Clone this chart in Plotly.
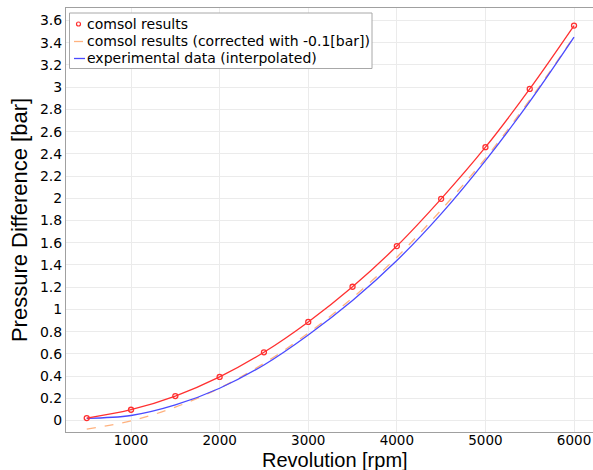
import plotly.graph_objects as go

rpm = [500, 1000, 1500, 2000, 2500, 3000, 3500, 4000, 4500, 5000, 5500, 6000]
comsol = [0.022, 0.097, 0.22, 0.392, 0.614, 0.887, 1.204, 1.57, 1.995, 2.46, 2.985, 3.555]
correction = 0.1
corrected = [v - correction for v in comsol]
experimental = [0.02, 0.045, 0.14, 0.29, 0.50, 0.77, 1.08, 1.44, 1.86, 2.34, 2.87, 3.45]

legend_labels = ["comsol results", "comsol results (corrected with -0.1[bar])", "experimental data (interpolated)"]

RED = "#ff3030"
ORANGE = "#ffb27f"
BLUE = "#4a4aff"

W, H = 593, 470
L, R, T, B = 66, 0, 8, 38
PW, PH = W - L - R, H - T - B


def px(xp):
    return (xp - L) / PW


def py(yp):
    return (H - B - yp) / PH


fig = go.Figure()
fig.add_trace(go.Scatter(x=rpm, y=corrected, mode="lines",
                         line=dict(color=ORANGE, width=1.3, dash="dash", shape="spline"),
                         name=legend_labels[1], showlegend=False))
fig.add_trace(go.Scatter(x=rpm, y=experimental, mode="lines",
                         line=dict(color=BLUE, width=1.3, shape="spline"),
                         name=legend_labels[2], showlegend=False))
fig.add_trace(go.Scatter(x=rpm, y=comsol, mode="lines+markers",
                         line=dict(color=RED, width=1.3, shape="spline"),
                         marker=dict(symbol="circle-open", size=5, color=RED, line=dict(width=1.3)),
                         name=legend_labels[0], showlegend=False))

# custom legend box (COMSOL style, short symbols)
shapes = [
    dict(type="rect", xref="paper", yref="paper", x0=px(69.5), x1=px(372), y0=py(13), y1=py(68.5),
         line=dict(color="#a8a8a8", width=1), fillcolor="white", layer="above"),
    dict(type="circle", xref="paper", yref="paper", xsizemode="pixel", ysizemode="pixel",
         xanchor=px(78.5), yanchor=py(24), x0=-2, x1=2, y0=-2, y1=2,
         line=dict(color=RED, width=1.2), layer="above"),
    dict(type="line", xref="paper", yref="paper", x0=px(74), x1=px(85), y0=py(41.5), y1=py(41.5),
         line=dict(color=ORANGE, width=1.3, dash="dash"), layer="above"),
    dict(type="line", xref="paper", yref="paper", x0=px(74), x1=px(85), y0=py(58.5), y1=py(58.5),
         line=dict(color=BLUE, width=1.3), layer="above"),
]
annotations = []
for lab, yy in zip(legend_labels, [24.5, 41.5, 58.5]):
    annotations.append(dict(text=lab, xref="paper", yref="paper", x=px(85), y=py(yy),
                            xanchor="left", yanchor="middle", showarrow=False,
                            font=dict(family="DejaVu Sans", size=14, color="black")))
annotations.append(dict(text="Revolution [rpm]", xref="paper", yref="paper", x=px(335), y=py(472),
                        xanchor="center", yanchor="bottom", showarrow=False, borderpad=0,
                        font=dict(family="Liberation Sans", size=20, color="black")))

fig.update_layout(
    width=W, height=H,
    margin=dict(l=L, r=R, t=T, b=B),
    paper_bgcolor="white", plot_bgcolor="white",
    font=dict(family="DejaVu Sans", size=14, color="black"),
    showlegend=False,
    shapes=shapes,
    annotations=annotations,
)
fig.update_xaxes(range=[266, 6214], tickvals=[1000, 2000, 3000, 4000, 5000, 6000],
                 showgrid=True, gridcolor="#ebebeb", gridwidth=1,
                 showline=True, linecolor="#a0a0a0", linewidth=1, mirror=True,
                 zeroline=False, ticks="outside", ticklen=0, tickcolor="white",
                 automargin=False, ticklabelstandoff=-4, tickfont=dict(size=13.5))
fig.update_yaxes(range=[-0.1035, 3.713], dtick=0.2, tick0=0,
                 showgrid=True, gridcolor="#ebebeb", gridwidth=1,
                 showline=True, linecolor="#a0a0a0", linewidth=1, mirror=True,
                 zeroline=False, ticks="", automargin=False,
                 title=dict(text="Pressure Difference [bar]", font=dict(family="Liberation Sans", size=22), standoff=6))

fig.write_html("out.html")
